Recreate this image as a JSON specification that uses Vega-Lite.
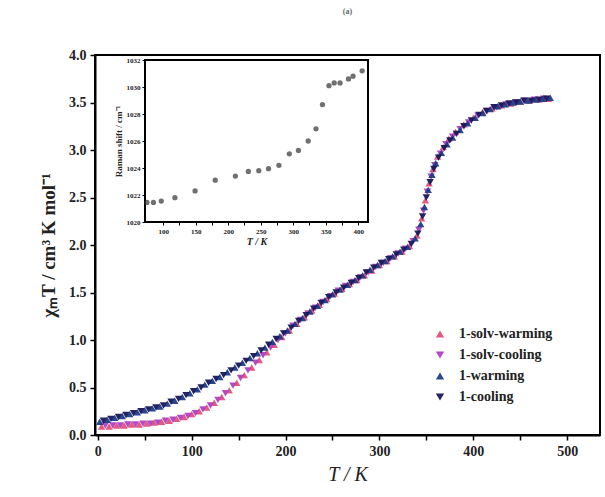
{
  "$schema": "https://vega.github.io/schema/vega-lite/v6.json",
  "width": 505,
  "height": 380,
  "autosize": {"type": "none"},
  "padding": {"left": 95, "top": 55, "right": 5, "bottom": 62},
  "background": "white",
  "config": {
    "view": {"stroke": "black", "strokeWidth": 2},
    "font": "Liberation Serif",
    "axis": {"grid": false, "domainColor": "black", "tickColor": "black", "labelColor": "#222", "titleColor": "#222", "labelFont": "Liberation Serif", "titleFont": "Liberation Serif"},
    "legend": {"labelFont": "Liberation Serif"}
  },
  "title": {"text": "(a)", "fontSize": 8, "color": "#666", "offset": 32, "font": "Liberation Serif"},
  "datasets": {
    "main": [
      {"s": "1-solv-warming", "T": 4, "c": 0.09}, {"s": "1-solv-warming", "T": 12, "c": 0.09}, {"s": "1-solv-warming", "T": 20, "c": 0.10}, {"s": "1-solv-warming", "T": 28, "c": 0.10}, {"s": "1-solv-warming", "T": 36, "c": 0.11}, {"s": "1-solv-warming", "T": 44, "c": 0.11}, {"s": "1-solv-warming", "T": 52, "c": 0.12}, {"s": "1-solv-warming", "T": 60, "c": 0.13}, {"s": "1-solv-warming", "T": 68, "c": 0.14}, {"s": "1-solv-warming", "T": 76, "c": 0.15}, {"s": "1-solv-warming", "T": 84, "c": 0.17}, {"s": "1-solv-warming", "T": 92, "c": 0.19}, {"s": "1-solv-warming", "T": 100, "c": 0.22}, {"s": "1-solv-warming", "T": 108, "c": 0.25}, {"s": "1-solv-warming", "T": 116, "c": 0.29}, {"s": "1-solv-warming", "T": 124, "c": 0.34}, {"s": "1-solv-warming", "T": 132, "c": 0.40}, {"s": "1-solv-warming", "T": 140, "c": 0.47}, {"s": "1-solv-warming", "T": 148, "c": 0.55}, {"s": "1-solv-warming", "T": 156, "c": 0.63}, {"s": "1-solv-warming", "T": 164, "c": 0.71}, {"s": "1-solv-warming", "T": 172, "c": 0.79}, {"s": "1-solv-warming", "T": 180, "c": 0.87}, {"s": "1-solv-warming", "T": 188, "c": 0.95}, {"s": "1-solv-warming", "T": 196, "c": 1.03}, {"s": "1-solv-warming", "T": 204, "c": 1.10}, {"s": "1-solv-warming", "T": 212, "c": 1.17}, {"s": "1-solv-warming", "T": 220, "c": 1.24}, {"s": "1-solv-warming", "T": 228, "c": 1.31}, {"s": "1-solv-warming", "T": 236, "c": 1.37}, {"s": "1-solv-warming", "T": 244, "c": 1.43}, {"s": "1-solv-warming", "T": 252, "c": 1.49}, {"s": "1-solv-warming", "T": 260, "c": 1.54}, {"s": "1-solv-warming", "T": 268, "c": 1.59}, {"s": "1-solv-warming", "T": 276, "c": 1.63}, {"s": "1-solv-warming", "T": 284, "c": 1.68}, {"s": "1-solv-warming", "T": 292, "c": 1.73}, {"s": "1-solv-warming", "T": 300, "c": 1.79}, {"s": "1-solv-warming", "T": 308, "c": 1.83}, {"s": "1-solv-warming", "T": 316, "c": 1.88}, {"s": "1-solv-warming", "T": 324, "c": 1.93}, {"s": "1-solv-warming", "T": 332, "c": 1.99}, {"s": "1-solv-warming", "T": 340, "c": 2.10}, {"s": "1-solv-warming", "T": 345, "c": 2.28}, {"s": "1-solv-warming", "T": 349, "c": 2.47}, {"s": "1-solv-warming", "T": 353, "c": 2.65}, {"s": "1-solv-warming", "T": 357, "c": 2.80}, {"s": "1-solv-warming", "T": 362, "c": 2.93}, {"s": "1-solv-warming", "T": 368, "c": 3.03}, {"s": "1-solv-warming", "T": 374, "c": 3.12}, {"s": "1-solv-warming", "T": 381, "c": 3.19}, {"s": "1-solv-warming", "T": 390, "c": 3.27}, {"s": "1-solv-warming", "T": 400, "c": 3.34}, {"s": "1-solv-warming", "T": 410, "c": 3.40}, {"s": "1-solv-warming", "T": 420, "c": 3.44}, {"s": "1-solv-warming", "T": 430, "c": 3.47}, {"s": "1-solv-warming", "T": 440, "c": 3.49}, {"s": "1-solv-warming", "T": 450, "c": 3.51}, {"s": "1-solv-warming", "T": 460, "c": 3.52}, {"s": "1-solv-warming", "T": 470, "c": 3.53}, {"s": "1-solv-warming", "T": 480, "c": 3.54},
      {"s": "1-solv-cooling", "T": 8, "c": 0.10}, {"s": "1-solv-cooling", "T": 16, "c": 0.10}, {"s": "1-solv-cooling", "T": 24, "c": 0.10}, {"s": "1-solv-cooling", "T": 32, "c": 0.11}, {"s": "1-solv-cooling", "T": 40, "c": 0.11}, {"s": "1-solv-cooling", "T": 48, "c": 0.12}, {"s": "1-solv-cooling", "T": 56, "c": 0.12}, {"s": "1-solv-cooling", "T": 64, "c": 0.13}, {"s": "1-solv-cooling", "T": 72, "c": 0.15}, {"s": "1-solv-cooling", "T": 80, "c": 0.16}, {"s": "1-solv-cooling", "T": 88, "c": 0.18}, {"s": "1-solv-cooling", "T": 96, "c": 0.20}, {"s": "1-solv-cooling", "T": 104, "c": 0.23}, {"s": "1-solv-cooling", "T": 112, "c": 0.27}, {"s": "1-solv-cooling", "T": 120, "c": 0.31}, {"s": "1-solv-cooling", "T": 128, "c": 0.37}, {"s": "1-solv-cooling", "T": 136, "c": 0.44}, {"s": "1-solv-cooling", "T": 144, "c": 0.52}, {"s": "1-solv-cooling", "T": 152, "c": 0.60}, {"s": "1-solv-cooling", "T": 160, "c": 0.68}, {"s": "1-solv-cooling", "T": 168, "c": 0.76}, {"s": "1-solv-cooling", "T": 176, "c": 0.84}, {"s": "1-solv-cooling", "T": 184, "c": 0.92}, {"s": "1-solv-cooling", "T": 192, "c": 1.00}, {"s": "1-solv-cooling", "T": 200, "c": 1.07}, {"s": "1-solv-cooling", "T": 208, "c": 1.15}, {"s": "1-solv-cooling", "T": 216, "c": 1.21}, {"s": "1-solv-cooling", "T": 224, "c": 1.28}, {"s": "1-solv-cooling", "T": 232, "c": 1.34}, {"s": "1-solv-cooling", "T": 240, "c": 1.40}, {"s": "1-solv-cooling", "T": 248, "c": 1.46}, {"s": "1-solv-cooling", "T": 256, "c": 1.52}, {"s": "1-solv-cooling", "T": 264, "c": 1.57}, {"s": "1-solv-cooling", "T": 272, "c": 1.61}, {"s": "1-solv-cooling", "T": 280, "c": 1.66}, {"s": "1-solv-cooling", "T": 288, "c": 1.71}, {"s": "1-solv-cooling", "T": 296, "c": 1.77}, {"s": "1-solv-cooling", "T": 304, "c": 1.81}, {"s": "1-solv-cooling", "T": 312, "c": 1.86}, {"s": "1-solv-cooling", "T": 320, "c": 1.91}, {"s": "1-solv-cooling", "T": 328, "c": 1.96}, {"s": "1-solv-cooling", "T": 336, "c": 2.04}, {"s": "1-solv-cooling", "T": 342, "c": 2.16}, {"s": "1-solv-cooling", "T": 347, "c": 2.36}, {"s": "1-solv-cooling", "T": 351, "c": 2.56}, {"s": "1-solv-cooling", "T": 355, "c": 2.72}, {"s": "1-solv-cooling", "T": 359, "c": 2.84}, {"s": "1-solv-cooling", "T": 365, "c": 2.96}, {"s": "1-solv-cooling", "T": 371, "c": 3.06}, {"s": "1-solv-cooling", "T": 378, "c": 3.14}, {"s": "1-solv-cooling", "T": 386, "c": 3.22}, {"s": "1-solv-cooling", "T": 395, "c": 3.29}, {"s": "1-solv-cooling", "T": 405, "c": 3.36}, {"s": "1-solv-cooling", "T": 415, "c": 3.41}, {"s": "1-solv-cooling", "T": 425, "c": 3.45}, {"s": "1-solv-cooling", "T": 435, "c": 3.48}, {"s": "1-solv-cooling", "T": 445, "c": 3.50}, {"s": "1-solv-cooling", "T": 455, "c": 3.52}, {"s": "1-solv-cooling", "T": 465, "c": 3.53}, {"s": "1-solv-cooling", "T": 475, "c": 3.54},
      {"s": "1-warming", "T": 2, "c": 0.14}, {"s": "1-warming", "T": 10, "c": 0.16}, {"s": "1-warming", "T": 18, "c": 0.18}, {"s": "1-warming", "T": 26, "c": 0.20}, {"s": "1-warming", "T": 34, "c": 0.22}, {"s": "1-warming", "T": 42, "c": 0.24}, {"s": "1-warming", "T": 50, "c": 0.26}, {"s": "1-warming", "T": 58, "c": 0.28}, {"s": "1-warming", "T": 66, "c": 0.30}, {"s": "1-warming", "T": 74, "c": 0.33}, {"s": "1-warming", "T": 82, "c": 0.36}, {"s": "1-warming", "T": 90, "c": 0.40}, {"s": "1-warming", "T": 98, "c": 0.44}, {"s": "1-warming", "T": 106, "c": 0.48}, {"s": "1-warming", "T": 114, "c": 0.53}, {"s": "1-warming", "T": 122, "c": 0.57}, {"s": "1-warming", "T": 130, "c": 0.61}, {"s": "1-warming", "T": 138, "c": 0.66}, {"s": "1-warming", "T": 146, "c": 0.71}, {"s": "1-warming", "T": 154, "c": 0.76}, {"s": "1-warming", "T": 162, "c": 0.81}, {"s": "1-warming", "T": 170, "c": 0.86}, {"s": "1-warming", "T": 178, "c": 0.92}, {"s": "1-warming", "T": 186, "c": 0.98}, {"s": "1-warming", "T": 194, "c": 1.04}, {"s": "1-warming", "T": 202, "c": 1.10}, {"s": "1-warming", "T": 210, "c": 1.17}, {"s": "1-warming", "T": 218, "c": 1.23}, {"s": "1-warming", "T": 226, "c": 1.30}, {"s": "1-warming", "T": 234, "c": 1.36}, {"s": "1-warming", "T": 242, "c": 1.42}, {"s": "1-warming", "T": 250, "c": 1.48}, {"s": "1-warming", "T": 258, "c": 1.53}, {"s": "1-warming", "T": 266, "c": 1.58}, {"s": "1-warming", "T": 274, "c": 1.63}, {"s": "1-warming", "T": 282, "c": 1.68}, {"s": "1-warming", "T": 290, "c": 1.74}, {"s": "1-warming", "T": 298, "c": 1.79}, {"s": "1-warming", "T": 306, "c": 1.83}, {"s": "1-warming", "T": 314, "c": 1.88}, {"s": "1-warming", "T": 322, "c": 1.93}, {"s": "1-warming", "T": 330, "c": 1.98}, {"s": "1-warming", "T": 338, "c": 2.07}, {"s": "1-warming", "T": 344, "c": 2.22}, {"s": "1-warming", "T": 348, "c": 2.40}, {"s": "1-warming", "T": 352, "c": 2.58}, {"s": "1-warming", "T": 356, "c": 2.74}, {"s": "1-warming", "T": 360, "c": 2.86}, {"s": "1-warming", "T": 366, "c": 2.97}, {"s": "1-warming", "T": 372, "c": 3.06}, {"s": "1-warming", "T": 378, "c": 3.13}, {"s": "1-warming", "T": 386, "c": 3.21}, {"s": "1-warming", "T": 394, "c": 3.28}, {"s": "1-warming", "T": 402, "c": 3.34}, {"s": "1-warming", "T": 410, "c": 3.39}, {"s": "1-warming", "T": 418, "c": 3.43}, {"s": "1-warming", "T": 426, "c": 3.46}, {"s": "1-warming", "T": 434, "c": 3.48}, {"s": "1-warming", "T": 442, "c": 3.50}, {"s": "1-warming", "T": 450, "c": 3.51}, {"s": "1-warming", "T": 458, "c": 3.52}, {"s": "1-warming", "T": 466, "c": 3.53}, {"s": "1-warming", "T": 474, "c": 3.54}, {"s": "1-warming", "T": 482, "c": 3.55},
      {"s": "1-cooling", "T": 6, "c": 0.15}, {"s": "1-cooling", "T": 14, "c": 0.17}, {"s": "1-cooling", "T": 22, "c": 0.19}, {"s": "1-cooling", "T": 30, "c": 0.21}, {"s": "1-cooling", "T": 38, "c": 0.23}, {"s": "1-cooling", "T": 46, "c": 0.25}, {"s": "1-cooling", "T": 54, "c": 0.27}, {"s": "1-cooling", "T": 62, "c": 0.29}, {"s": "1-cooling", "T": 70, "c": 0.31}, {"s": "1-cooling", "T": 78, "c": 0.35}, {"s": "1-cooling", "T": 86, "c": 0.38}, {"s": "1-cooling", "T": 94, "c": 0.42}, {"s": "1-cooling", "T": 102, "c": 0.46}, {"s": "1-cooling", "T": 110, "c": 0.50}, {"s": "1-cooling", "T": 118, "c": 0.55}, {"s": "1-cooling", "T": 126, "c": 0.59}, {"s": "1-cooling", "T": 134, "c": 0.63}, {"s": "1-cooling", "T": 142, "c": 0.68}, {"s": "1-cooling", "T": 150, "c": 0.73}, {"s": "1-cooling", "T": 158, "c": 0.78}, {"s": "1-cooling", "T": 166, "c": 0.83}, {"s": "1-cooling", "T": 174, "c": 0.89}, {"s": "1-cooling", "T": 182, "c": 0.95}, {"s": "1-cooling", "T": 190, "c": 1.01}, {"s": "1-cooling", "T": 198, "c": 1.07}, {"s": "1-cooling", "T": 206, "c": 1.13}, {"s": "1-cooling", "T": 214, "c": 1.20}, {"s": "1-cooling", "T": 222, "c": 1.26}, {"s": "1-cooling", "T": 230, "c": 1.33}, {"s": "1-cooling", "T": 238, "c": 1.39}, {"s": "1-cooling", "T": 246, "c": 1.45}, {"s": "1-cooling", "T": 254, "c": 1.50}, {"s": "1-cooling", "T": 262, "c": 1.55}, {"s": "1-cooling", "T": 270, "c": 1.60}, {"s": "1-cooling", "T": 278, "c": 1.65}, {"s": "1-cooling", "T": 286, "c": 1.71}, {"s": "1-cooling", "T": 294, "c": 1.76}, {"s": "1-cooling", "T": 302, "c": 1.81}, {"s": "1-cooling", "T": 310, "c": 1.85}, {"s": "1-cooling", "T": 318, "c": 1.90}, {"s": "1-cooling", "T": 326, "c": 1.95}, {"s": "1-cooling", "T": 334, "c": 2.01}, {"s": "1-cooling", "T": 341, "c": 2.12}, {"s": "1-cooling", "T": 346, "c": 2.30}, {"s": "1-cooling", "T": 350, "c": 2.50}, {"s": "1-cooling", "T": 354, "c": 2.66}, {"s": "1-cooling", "T": 358, "c": 2.80}, {"s": "1-cooling", "T": 363, "c": 2.92}, {"s": "1-cooling", "T": 369, "c": 3.02}, {"s": "1-cooling", "T": 375, "c": 3.10}, {"s": "1-cooling", "T": 382, "c": 3.17}, {"s": "1-cooling", "T": 390, "c": 3.25}, {"s": "1-cooling", "T": 398, "c": 3.31}, {"s": "1-cooling", "T": 406, "c": 3.37}, {"s": "1-cooling", "T": 414, "c": 3.41}, {"s": "1-cooling", "T": 422, "c": 3.45}, {"s": "1-cooling", "T": 430, "c": 3.47}, {"s": "1-cooling", "T": 438, "c": 3.49}, {"s": "1-cooling", "T": 446, "c": 3.50}, {"s": "1-cooling", "T": 454, "c": 3.52}, {"s": "1-cooling", "T": 462, "c": 3.52}, {"s": "1-cooling", "T": 470, "c": 3.53}, {"s": "1-cooling", "T": 478, "c": 3.54}
    ],
    "frame": [{"Tr": 72, "Tr2": 415, "raman": 1020, "raman2": 1032}],
    "inset": [
      {"Tr": 75, "raman": 1021.45}, {"Tr": 85, "raman": 1021.45}, {"Tr": 97, "raman": 1021.55}, {"Tr": 118, "raman": 1021.8}, {"Tr": 149, "raman": 1022.3}, {"Tr": 180, "raman": 1023.1}, {"Tr": 211, "raman": 1023.4}, {"Tr": 231, "raman": 1023.75}, {"Tr": 247, "raman": 1023.8}, {"Tr": 262, "raman": 1023.95}, {"Tr": 278, "raman": 1024.2}, {"Tr": 294, "raman": 1025.05}, {"Tr": 308, "raman": 1025.3}, {"Tr": 323, "raman": 1026.0}, {"Tr": 335, "raman": 1026.9}, {"Tr": 345, "raman": 1028.7}, {"Tr": 355, "raman": 1030.1}, {"Tr": 363, "raman": 1030.3}, {"Tr": 372, "raman": 1030.3}, {"Tr": 385, "raman": 1030.6}, {"Tr": 392, "raman": 1030.8}, {"Tr": 406, "raman": 1031.2}
    ]
  },
  "layer": [
    {
      "data": {"name": "main"},
      "mark": {"type": "point", "filled": true, "size": 55, "opacity": 0.95},
      "encoding": {
        "x": {
          "field": "T", "type": "quantitative",
          "scale": {"domain": [-3, 535], "nice": false, "zero": false},
          "axis": {
            "orient": "bottom", "values": [0, 50, 100, 150, 200, 250, 300, 350, 400, 450, 500],
            "labelExpr": "datum.value % 100 == 0 ? datum.label : ''",
            "domainWidth": 2, "tickWidth": 1.5, "tickSize": 5,
            "labelFont": "Liberation Serif", "labelFontWeight": "bold", "labelFontSize": 14, "labelPadding": 4,
            "title": "T / K", "titleFont": "Liberation Serif", "titleFontSize": 20, "titleFontWeight": "normal", "titleFontStyle": "italic", "titlePadding": 6
          }
        },
        "y": {
          "field": "c", "type": "quantitative",
          "scale": {"domain": [0, 4], "nice": false, "zero": false},
          "axis": {
            "orient": "left", "values": [0, 0.5, 1, 1.5, 2, 2.5, 3, 3.5, 4], "format": ".1f",
            "domainWidth": 2, "tickWidth": 1.5, "tickSize": 5,
            "labelFont": "Liberation Serif", "labelFontWeight": "bold", "labelFontSize": 14, "labelPadding": 4,
            "title": "χₘT / cm³ K mol⁻¹", "titleFont": "Liberation Serif", "titleFontSize": 19, "titleFontWeight": "bold", "titlePadding": 10
          }
        },
        "color": {
          "field": "s", "type": "nominal",
          "scale": {"domain": ["1-solv-warming", "1-solv-cooling", "1-warming", "1-cooling"], "range": ["#e0507a", "#b040c0", "#1f3c88", "#18185a"]},
          "legend": {
            "orient": "none", "legendX": 338, "legendY": 272, "title": null,
            "symbolSize": 70, "labelFont": "Liberation Serif", "labelFontWeight": "bold", "labelFontSize": 14,
            "labelColor": "#222", "rowPadding": 7, "labelOffset": 12
          }
        },
        "shape": {
          "field": "s", "type": "nominal",
          "scale": {"domain": ["1-solv-warming", "1-solv-cooling", "1-warming", "1-cooling"], "range": ["triangle-up", "triangle-down", "triangle-up", "triangle-down"]},
          "legend": {
            "orient": "none", "legendX": 338, "legendY": 272, "title": null,
            "symbolSize": 70, "labelFont": "Liberation Serif", "labelFontWeight": "bold", "labelFontSize": 14,
            "labelColor": "#222", "rowPadding": 7, "labelOffset": 12
          }
        }
      }
    },
    {
      "layer": [
        {
          "data": {"name": "frame"},
          "mark": {"type": "rect", "fill": "white", "stroke": "black", "strokeWidth": 2},
          "encoding": {
            "x": {
              "field": "Tr", "type": "quantitative",
              "scale": {"domain": [72, 415], "range": [50, 273], "nice": false, "zero": false},
              "axis": {
                "orient": "bottom", "offset": -213, "zindex": 2,
                "values": [100, 125, 150, 175, 200, 225, 250, 275, 300, 325, 350, 375, 400],
                "labelExpr": "datum.value % 50 == 0 ? datum.label : ''",
                "domain": false, "tickWidth": 1, "tickSize": 3,
                "labelFont": "Liberation Serif", "labelFontWeight": "bold", "labelFontSize": 7, "labelPadding": 2,
                "title": "T / K", "titleFont": "Liberation Serif", "titleFontSize": 10, "titleFontWeight": "bold", "titleFontStyle": "italic", "titlePadding": 2
              }
            },
            "x2": {"field": "Tr2"},
            "y": {
              "field": "raman", "type": "quantitative",
              "scale": {"domain": [1020, 1032], "range": [167, 5], "nice": false, "zero": false},
              "axis": {
                "orient": "left", "offset": -50, "zindex": 2, "format": "d",
                "values": [1020, 1022, 1024, 1026, 1028, 1030, 1032],
                "domain": false, "tickWidth": 1, "tickSize": 3,
                "labelFont": "Liberation Serif", "labelFontWeight": "bold", "labelFontSize": 7, "labelPadding": 2,
                "title": "Raman shift / cm⁻¹", "titleFont": "Liberation Serif", "titleFontSize": 9, "titleFontWeight": "bold", "titlePadding": 3
              }
            },
            "y2": {"field": "raman2"}
          }
        },
        {
          "data": {"name": "inset"},
          "mark": {"type": "point", "filled": true, "shape": "circle", "size": 28, "color": "#333"},
          "encoding": {
            "x": {
              "field": "Tr", "type": "quantitative",
              "scale": {"domain": [72, 415], "range": [50, 273], "nice": false, "zero": false},
              "axis": {
                "orient": "bottom", "offset": -213, "zindex": 2,
                "values": [100, 125, 150, 175, 200, 225, 250, 275, 300, 325, 350, 375, 400],
                "labelExpr": "datum.value % 50 == 0 ? datum.label : ''",
                "domain": false, "tickWidth": 1, "tickSize": 3,
                "labelFont": "Liberation Serif", "labelFontWeight": "bold", "labelFontSize": 7, "labelPadding": 2,
                "title": "T / K", "titleFont": "Liberation Serif", "titleFontSize": 10, "titleFontWeight": "bold", "titleFontStyle": "italic", "titlePadding": 2
              }
            },
            "y": {
              "field": "raman", "type": "quantitative",
              "scale": {"domain": [1020, 1032], "range": [167, 5], "nice": false, "zero": false},
              "axis": {
                "orient": "left", "offset": -50, "zindex": 2, "format": "d",
                "values": [1020, 1022, 1024, 1026, 1028, 1030, 1032],
                "domain": false, "tickWidth": 1, "tickSize": 3,
                "labelFont": "Liberation Serif", "labelFontWeight": "bold", "labelFontSize": 7, "labelPadding": 2,
                "title": "Raman shift / cm⁻¹", "titleFont": "Liberation Serif", "titleFontSize": 9, "titleFontWeight": "bold", "titlePadding": 3
              }
            }
          }
        }
      ]
    }
  ],
  "resolve": {"scale": {"x": "independent", "y": "independent"}, "axis": {"x": "independent", "y": "independent"}}
}
